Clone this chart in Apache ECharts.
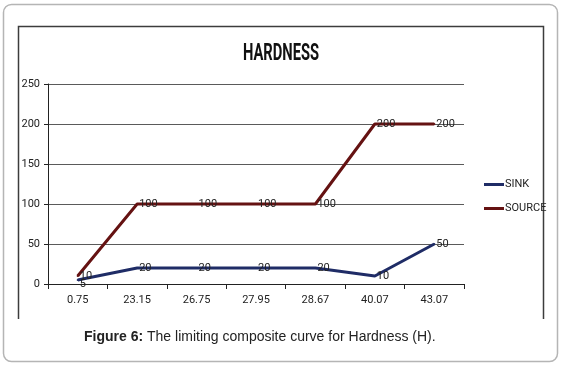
<!DOCTYPE html>
<html>
<head>
<meta charset="utf-8">
<script src="https://cdn.jsdelivr.net/npm/echarts@6/dist/echarts.min.js"></script>
<style>
  html, body {margin: 0; padding: 0; background: #fff;}
  #chart {width: 562px; height: 365px;}
</style>
</head>
<body>
<div id="chart"></div>
<script>
const categories = ['0.75', '23.15', '26.75', '27.95', '28.67', '40.07', '43.07']
const sink = [5, 20, 20, 20, 20, 10, 50]
const source = [10, 100, 100, 100, 100, 200, 200]
const yTicks = {min: 0, max: 250, interval: 50}

const narrow = 'Roboto, "Liberation Sans Narrow", sans-serif'

const chart = echarts.init(document.getElementById('chart'))

const labelStyle = {
  show: true,
  position: 'right',
  distance: 1,
  fontFamily: narrow,
  fontSize: 11,
  color: '#222'
}

// the first SINK label sits a little lower than the SOURCE one
const sinkData = sink.map((v, i) => i === 0 ? {value: v, label: {offset: [0, 4]}} : v)

chart.setOption({
  animation: false,
  legend: {
    orient: 'vertical',
    left: 479,
    top: 174,
    itemWidth: 20,
    itemHeight: 3,
    itemGap: 13,
    icon: 'rect',
    textStyle: {fontFamily: narrow, fontSize: 11, color: '#222', padding: [0, 0, 0, -4]},
    data: ['SINK', 'SOURCE']
  },
  grid: {left: 48, top: 84, right: 98, bottom: 81},
  xAxis: {
    type: 'category',
    data: categories,
    boundaryGap: true,
    axisLine: {lineStyle: {color: '#222', width: 1}},
    axisTick: {show: true, length: 5, lineStyle: {color: '#222'}},
    axisLabel: {fontFamily: narrow, fontSize: 11, color: '#222', margin: 11}
  },
  yAxis: {
    type: 'value',
    min: yTicks.min,
    max: yTicks.max,
    interval: yTicks.interval,
    axisLine: {show: true, lineStyle: {color: '#222'}},
    axisTick: {show: true, length: 4, lineStyle: {color: '#222'}},
    axisLabel: {fontFamily: narrow, fontSize: 11, color: '#222', margin: 8},
    splitLine: {lineStyle: {color: '#5a5a5a', width: 1}}
  },
  series: [
    {
      name: 'SINK',
      type: 'line',
      data: sinkData,
      symbol: 'circle',
      symbolSize: 2,
      color: '#1f2c66',
      lineStyle: {width: 3, color: '#1f2c66'},
      label: labelStyle
    },
    {
      name: 'SOURCE',
      type: 'line',
      data: source,
      symbol: 'circle',
      symbolSize: 2,
      color: '#651212',
      lineStyle: {width: 3, color: '#651212'},
      label: labelStyle
    }
  ],
  graphic: [
    {
      type: 'rect',
      shape: {x: 3.5, y: 4.5, width: 554, height: 357, r: 8},
      style: {fill: 'none', stroke: '#b5b5b5', lineWidth: 1.5},
      silent: true
    },
    {
      type: 'polyline',
      shape: {points: [[18.5, 319], [18.5, 26.5], [543.5, 26.5], [543.5, 319]]},
      style: {fill: 'none', stroke: '#3c3c3c', lineWidth: 1.5},
      silent: true
    },
    {
      // condensed-looking title: tall bold text squeezed horizontally
      type: 'text',
      x: 281,
      y: 54,
      scaleX: 0.64,
      style: {
        text: 'HARDNESS',
        align: 'center',
        verticalAlign: 'middle',
        fontFamily: narrow,
        fontWeight: 'bold',
        fontSize: 23,
        fill: '#111'
      }
    },
    {
      type: 'text',
      left: 84,
      top: 330,
      style: {
        text: '{b|Figure 6:} The limiting composite curve for Hardness (H).',
        rich: {
          b: {fontFamily: 'Liberation Sans, Arial, sans-serif', fontWeight: 'bold', fontSize: 14, fill: '#222'}
        },
        fontFamily: 'Liberation Sans, Arial, sans-serif',
        fontSize: 14,
        fill: '#222'
      }
    }
  ]
})
</script>
</body>
</html>
